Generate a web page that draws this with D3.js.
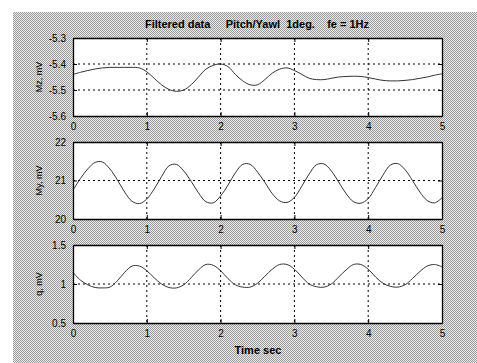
<!DOCTYPE html>
<html>
<head>
<meta charset="utf-8">
<script src="https://cdn.jsdelivr.net/npm/d3@7"></script>
<style>
  body { margin: 0; background: #fff; }
  text { font-family: "Liberation Sans", Arial, sans-serif; }
</style>
</head>
<body>
<svg id="chart" width="477" height="363"></svg>
<script>
// time samples (sec), every 0.1 s
var timeSec = d3.range(0, 51).map(function(i) { return +(i / 10).toFixed(1); });

// panel 1 : Mz
var mzValues = [-5.44, -5.432, -5.425, -5.419, -5.415, -5.413, -5.413, -5.413, -5.413, -5.415,
                -5.43, -5.455, -5.48, -5.498, -5.505, -5.50, -5.48, -5.45, -5.42, -5.405,
                -5.40, -5.41, -5.44, -5.465, -5.48, -5.48, -5.46, -5.435, -5.42, -5.415,
                -5.425, -5.44, -5.455, -5.46, -5.46, -5.455, -5.45, -5.448, -5.447, -5.448,
                -5.452, -5.458, -5.463, -5.465, -5.465, -5.463, -5.46, -5.455, -5.45, -5.443,
                -5.438];
// panel 2 : My
var myValues = [20.75, 21.05, 21.3, 21.47, 21.48, 21.3, 21.02, 20.7, 20.46, 20.4,
                20.52, 20.78, 21.1, 21.38, 21.42, 21.25, 20.98, 20.68, 20.45, 20.42,
                20.6, 20.88, 21.2, 21.42, 21.42, 21.22, 20.95, 20.66, 20.47, 20.43,
                20.56, 20.85, 21.17, 21.41, 21.43, 21.25, 20.96, 20.66, 20.45, 20.41,
                20.53, 20.82, 21.14, 21.4, 21.44, 21.28, 21.0, 20.7, 20.48, 20.42,
                20.55];
// panel 3 : q
var qValues = [1.15, 1.05, 0.99, 0.955, 0.95, 0.96, 1.04, 1.15, 1.23, 1.23,
               1.17, 1.08, 1.0, 0.955, 0.95, 0.99, 1.08, 1.18, 1.25, 1.24,
               1.17, 1.07, 0.99, 0.96, 0.96, 1.01, 1.1, 1.19, 1.25, 1.25,
               1.19, 1.09, 1.0, 0.965, 0.96, 1.0, 1.09, 1.18, 1.25, 1.25,
               1.19, 1.09, 1.01, 0.97, 0.96, 0.99, 1.07, 1.16, 1.23, 1.25,
               1.22];

var xTicks = [0, 1, 2, 3, 4, 5];
var mzTicks = [-5.6, -5.5, -5.4, -5.3];
var myTicks = [20, 21, 22];
var qTicks = [0.5, 1, 1.5];
var yLabels = ["Mz, mV", "My, mV", "q, mV"];
var titleText = "Filtered data     Pitch/Yawl  1deg.    fe = 1Hz";
var xLabelText = "Time sec";

var svg = d3.select("#chart");

// dithered grey figure background
var defs = svg.append("defs");
var pat = defs.append("pattern")
    .attr("id", "dither")
    .attr("width", 2).attr("height", 2)
    .attr("patternUnits", "userSpaceOnUse");
pat.append("rect").attr("width", 2).attr("height", 2).attr("fill", "#ececec");
pat.append("rect").attr("x", 0).attr("y", 0).attr("width", 1).attr("height", 1).attr("fill", "#9a9a9a");
pat.append("rect").attr("x", 1).attr("y", 1).attr("width", 1).attr("height", 1).attr("fill", "#9a9a9a");

svg.append("rect")
    .attr("x", 13).attr("y", 12)
    .attr("width", 464).attr("height", 351)
    .attr("fill", "url(#dither)");

var left = 73, right = 442;
var xScale = d3.scaleLinear().domain([0, 5]).range([left, right]);

// plain hyphen for negatives, like the original
var fmt1 = function(v) { return d3.format(".1f")(v).replace("\u2212", "-"); };

var panels = [
    {vals: mzValues, ticks: mzTicks, dom: [-5.6, -5.3], top: 38, bottom: 116, fmt: fmt1},
    {vals: myValues, ticks: myTicks, dom: [20, 22], top: 142, bottom: 219, fmt: d3.format("d")},
    {vals: qValues, ticks: qTicks, dom: [0.5, 1.5], top: 245, bottom: 323, fmt: function(v) { return v == 1 ? "1" : fmt1(v); }}
];

panels.forEach(function(p, k) {
    var yScale = d3.scaleLinear().domain(p.dom).range([p.bottom, p.top]);
    var g = svg.append("g");

    // white plot area
    g.append("rect")
        .attr("x", left).attr("y", p.top)
        .attr("width", right - left).attr("height", p.bottom - p.top)
        .attr("fill", "#fff");

    // dotted grid
    g.selectAll(".vgrid")
        .data(xTicks.slice(1, -1))
        .enter().append("line")
        .attr("x1", function(d) { return xScale(d); })
        .attr("x2", function(d) { return xScale(d); })
        .attr("y1", p.top).attr("y2", p.bottom)
        .attr("stroke", "#000").attr("stroke-width", 1)
        .style("stroke-dasharray", "2,3");
    g.selectAll(".hgrid")
        .data(p.ticks.slice(1, -1))
        .enter().append("line")
        .attr("x1", left).attr("x2", right)
        .attr("y1", function(d) { return yScale(d); })
        .attr("y2", function(d) { return yScale(d); })
        .attr("stroke", "#000").attr("stroke-width", 1)
        .style("stroke-dasharray", "2,3");

    // the curve
    var line = d3.line()
        .x(function(d, i) { return xScale(timeSec[i]); })
        .y(function(d) { return yScale(d); })
        .curve(d3.curveCatmullRom.alpha(0.5));
    g.append("path")
        .datum(p.vals)
        .attr("d", line)
        .attr("fill", "none")
        .attr("stroke", "#333")
        .attr("stroke-width", 1);

    // axes with inward ticks
    g.append("g")
        .attr("transform", "translate(0," + p.bottom + ")")
        .call(d3.axisBottom(xScale).tickValues(xTicks).tickSizeInner(-4).tickSizeOuter(0).tickPadding(7).tickFormat(d3.format("d")));
    g.append("g")
        .attr("transform", "translate(0," + p.top + ")")
        .call(d3.axisTop(xScale).tickValues(xTicks).tickSizeInner(-4).tickSizeOuter(0).tickFormat(""));
    g.append("g")
        .attr("transform", "translate(" + left + ",0)")
        .call(d3.axisLeft(yScale).tickValues(p.ticks).tickSizeInner(-4).tickSizeOuter(0).tickPadding(7).tickFormat(p.fmt));
    g.append("g")
        .attr("transform", "translate(" + right + ",0)")
        .call(d3.axisRight(yScale).tickValues(p.ticks).tickSizeInner(-4).tickSizeOuter(0).tickFormat(""));

    g.selectAll(".domain").attr("stroke", "#000").attr("stroke-width", 1.3);
    g.selectAll(".tick text")
        .attr("fill", "#000")
        .style("font-size", "10px")
        .style("font-family", "'Liberation Sans', Arial, sans-serif");

    // y label
    g.append("text")
        .attr("transform", "translate(42," + ((p.top + p.bottom) / 2) + ") rotate(-90)")
        .attr("text-anchor", "middle")
        .style("font-size", "9px")
        .text(yLabels[k]);
});

// title and x label
svg.append("text")
    .attr("x", 257).attr("y", 28)
    .attr("text-anchor", "middle")
    .attr("xml:space", "preserve")
    .style("white-space", "pre")
    .style("font-size", "11px")
    .style("font-weight", "bold")
    .text(titleText);

svg.append("text")
    .attr("x", 258).attr("y", 354)
    .attr("text-anchor", "middle")
    .style("font-size", "11px")
    .style("font-weight", "bold")
    .text(xLabelText);
</script>
</body>
</html>
